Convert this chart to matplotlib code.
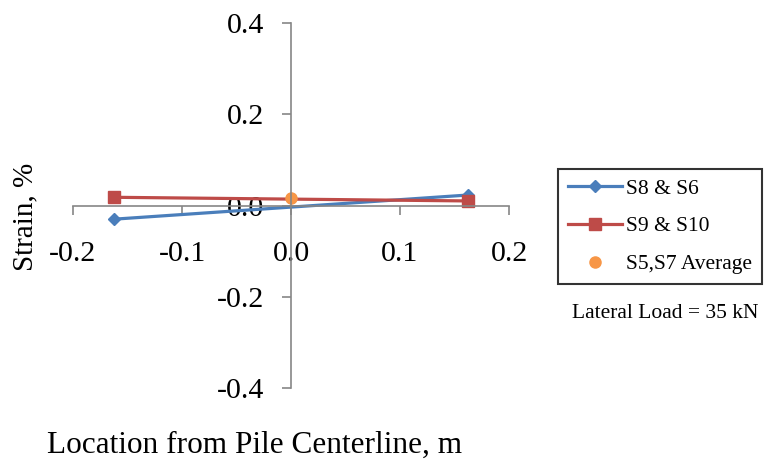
import matplotlib.pyplot as plt

# data
location = [-0.1625, 0.1625]
s8_s6 = [-0.030, 0.023]
s9_s10 = [0.018, 0.010]
avg_x = [0.0]
s5_s7_avg = [0.017]

x_ticks = [-0.2, -0.1, 0.0, 0.1, 0.2]
y_ticks = [-0.4, -0.2, 0.0, 0.2, 0.4]

plt.rcParams['font.family'] = ['Liberation Serif', 'DejaVu Serif']

fig = plt.figure(figsize=(7.65, 4.59), dpi=100)
ax = fig.add_axes([73 / 765, 1 - 388 / 459, (509 - 73) / 765, (388 - 23) / 459])

ax.plot(location, s8_s6, color='#4A7EBB', lw=2.3, marker='D', ms=6.5, label='S8 & S6')
ax.plot(location, s9_s10, color='#BE4B48', lw=2.3, marker='s', ms=8, label='S9 & S10')
ax.plot(avg_x, s5_s7_avg, color='#F79646', lw=0, marker='o', ms=8, label='S5,S7 Average')

ax.set_xlim(-0.2, 0.2)
ax.set_ylim(-0.4, 0.4)
ax.set_xticks(x_ticks)
ax.set_yticks(y_ticks)
ax.set_xticklabels([f'{v:.1f}' for v in x_ticks])
ax.set_yticklabels([f'{v:.1f}' for v in y_ticks])

# axes crossing at the origin, Excel style
for side in ['left', 'bottom']:
    ax.spines[side].set_position(('data', 0))
    ax.spines[side].set_color('#868686')
    ax.spines[side].set_linewidth(1.2)
ax.spines['top'].set_visible(False)
ax.spines['right'].set_visible(False)
ax.set_facecolor('none')

ax.tick_params(axis='both', colors='#868686', labelcolor='black', labelsize=21.5,
               direction='out', length=6.5, width=1.2)
ax.tick_params(axis='y', pad=13)
ax.tick_params(axis='x', pad=19)

fig.text(47 / 765, 1 - 453 / 459, 'Location from Pile Centerline, m', fontsize=22.5,
         ha='left', va='baseline')
fig.text(12 / 765, 1 - 217 / 459, 'Strain, %', fontsize=21, rotation=90,
         ha='left', va='center')

leg = fig.legend(loc='upper left', bbox_to_anchor=(558 / 765, 1 - 169 / 459),
                 fontsize=15.5, frameon=True, fancybox=False, handlelength=2.5,
                 handletextpad=0.2, labelspacing=0.82, borderpad=0.45,
                 borderaxespad=0)
leg.get_frame().set_edgecolor('black')
leg.get_frame().set_linewidth(1.5)

fig.text(572 / 765, 1 - 313 / 459, 'Lateral Load = 35 kN', fontsize=15.5,
         ha='left', va='center')

fig.savefig('out.png', dpi=100)
